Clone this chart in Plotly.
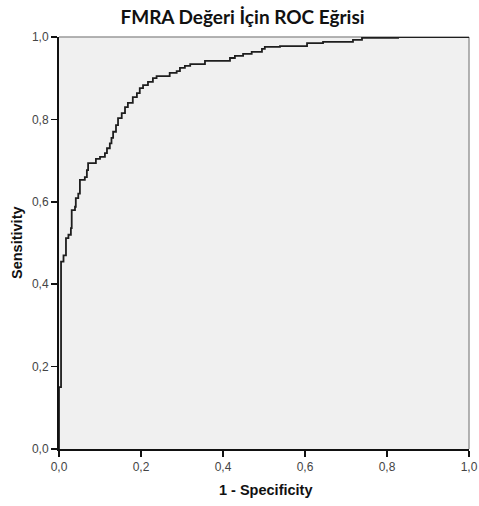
import plotly.graph_objects as go

fpr = [0.0, 0.0, 0.005, 0.011, 0.017, 0.023, 0.029, 0.031, 0.039, 0.041, 0.047, 0.051,
       0.063, 0.068, 0.071, 0.090, 0.100, 0.112, 0.117, 0.124, 0.128, 0.132, 0.139,
       0.144, 0.153, 0.161, 0.168, 0.180, 0.190, 0.197, 0.205, 0.217, 0.229, 0.238,
       0.270, 0.287, 0.295, 0.307, 0.320, 0.356, 0.417, 0.429, 0.449, 0.470, 0.495,
       0.502, 0.539, 0.605, 0.644, 0.717, 0.739, 0.827, 1.0]
tpr = [0.0, 0.15, 0.455, 0.470, 0.512, 0.520, 0.536, 0.580, 0.588, 0.609, 0.620, 0.653,
       0.660, 0.677, 0.694, 0.704, 0.709, 0.718, 0.730, 0.742, 0.755, 0.770, 0.786,
       0.803, 0.815, 0.830, 0.840, 0.854, 0.864, 0.876, 0.883, 0.891, 0.900, 0.905,
       0.913, 0.917, 0.925, 0.930, 0.934, 0.942, 0.949, 0.954, 0.959, 0.964, 0.971,
       0.976, 0.978, 0.985, 0.988, 0.993, 0.998, 1.0, 1.0]

tick_vals = [0.0, 0.2, 0.4, 0.6, 0.8, 1.0]
tick_text = ["0,0", "0,2", "0,4", "0,6", "0,8", "1,0"]

title_text = "FMRA Değeri İçin ROC Eğrisi"
x_title = "1 - Specificity"
y_title = "Sensitivity"

W, H = 479, 506
PX0, PX1, PY0, PY1 = 59, 469, 37, 449          # plot area in page pixels
L, R, T, B = PX0, W - PX1, PY0, H - PY1
PW, PH = W - L - R, H - T - B

fig = go.Figure()
fig.add_trace(go.Scatter(x=fpr, y=tpr, mode="lines", line=dict(color="#1e1e1e", width=1.8, shape="hv"),
                         showlegend=False, hoverinfo="x+y"))

axis_common = dict(range=[0, 1], tickvals=tick_vals, ticktext=tick_text, showgrid=False, zeroline=False,
                   showline=True, linecolor="#111111", linewidth=2, ticks="outside", ticklen=6,
                   tickwidth=1.5, tickcolor="#111111", automargin=False, ticklabeloverflow="allow",
                   tickfont=dict(family="Liberation Sans, Arial", size=12, color="#444444"))

title_font = dict(family="Liberation Sans, Arial", size=14.5, color="#111111", weight="bold")

fig.update_layout(
    width=W, height=H,
    margin=dict(l=L, r=R, t=T, b=B),
    paper_bgcolor="white", plot_bgcolor="#f0f0f0",
    title=dict(text=title_text, x=242.5 / W, xref="container", xanchor="center",
               y=1 - 17.5 / H, yref="container", yanchor="middle",
               font=dict(family="Lato, Open Sans", size=19, color="#111111", weight="bold")),
    xaxis=dict(**axis_common),
    yaxis=dict(**axis_common),
    annotations=[
        dict(text=x_title, xref="paper", yref="paper", x=(265.5 - PX0) / PW, y=-(490 - PY1) / PH,
             xanchor="center", yanchor="middle", showarrow=False, font=title_font),
        dict(text=y_title, xref="paper", yref="paper", x=-(PX0 - 17) / PW, y=0.5,
             xanchor="center", yanchor="middle", textangle=-90, showarrow=False, font=title_font),
    ],
    shapes=[
        dict(type="line", xref="paper", yref="paper", x0=0, x1=1, y0=1, y1=1,
             line=dict(color="#9a9a9a", width=1.5), layer="below"),
        dict(type="line", xref="paper", yref="paper", x0=1, x1=1, y0=0, y1=1,
             line=dict(color="#9a9a9a", width=1.5), layer="below"),
    ],
)

fig.write_html("out.html", config={"displayModeBar": False, "staticPlot": True},
               post_script="document.body.style.margin='0';document.body.style.overflow='hidden';")
